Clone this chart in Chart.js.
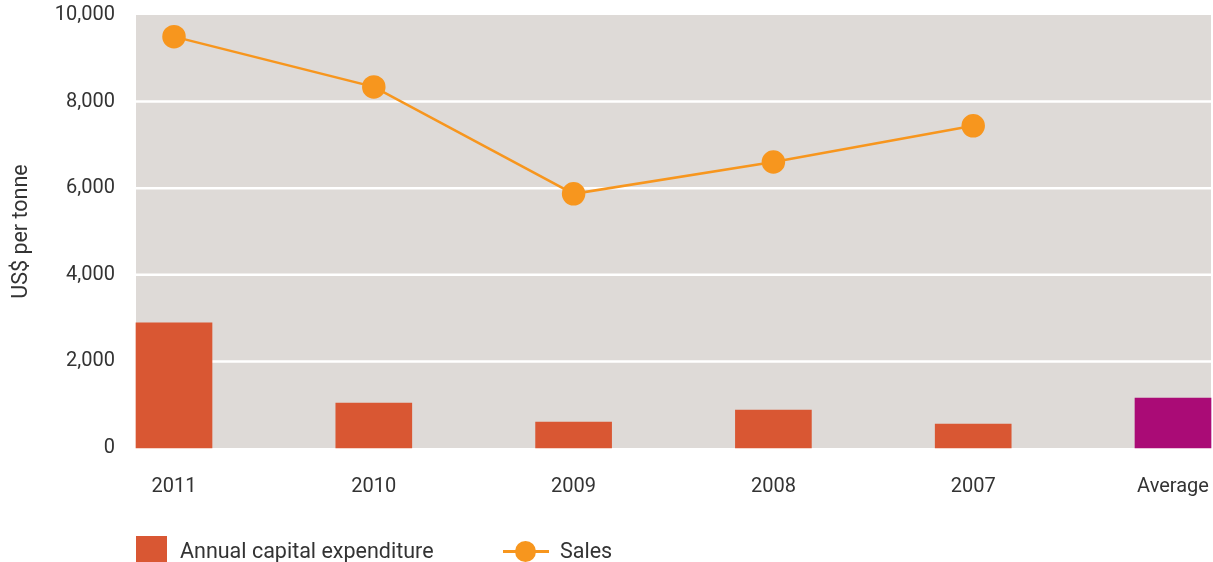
<!DOCTYPE html>
<html>
<head>
<meta charset="utf-8">
<script src="https://cdn.jsdelivr.net/npm/chart.js@4"></script>
<style>
  body { margin:0; background:#fff; font-family: Roboto, sans-serif; }
  #wrap { position:relative; width:1213px; height:562px; }
  #legend { position:absolute; left:0; top:0; width:1213px; height:562px; pointer-events:none; color:#333; font-size:21.5px; }
  .sq { position:absolute; left:136px; top:536px; width:31px; height:30px; background:#d95733; }
  .ln { position:absolute; left:503px; top:550px; width:46px; height:3px; background:#f7961e; }
  .dot { position:absolute; left:515px; top:541px; width:21px; height:21px; border-radius:50%; background:#f7961e; }
  .lab { position:absolute; top:538px; line-height:26px; }
</style>
</head>
<body>
<div id="wrap">
  <canvas id="chart" width="1213" height="562"></canvas>
  <div id="legend">
    <div class="sq"></div><div class="lab" style="left:180px">Annual capital expenditure</div>
    <div class="ln"></div><div class="dot"></div><div class="lab" style="left:560px">Sales</div>
  </div>
</div>
<script>
// data
const categories = ["2011", "2010", "2009", "2008", "2007", "Average"];
const capex = [2890, 1040, 600, 878, 554, 1155];
const sales = [9500, 8340, 5870, 6605, 7440, null];
const yTicks = [0, 2000, 4000, 6000, 8000, 10000];

const barColors = ["#d95733", "#d95733", "#d95733", "#d95733", "#d95733", "#aa0b76"];

// grey panel and white grid lines, wider than the chart area so the edge bars sit inside
const panel = {
  id: 'panel',
  beforeDatasetsDraw(chart) {
    const {ctx, chartArea: a, scales: {y}} = chart;
    const half = 38;
    ctx.save();
    ctx.fillStyle = '#dedad7';
    ctx.fillRect(a.left - half, a.top, a.right - a.left + 2 * half, a.bottom - a.top);
    ctx.strokeStyle = '#ffffff';
    ctx.lineWidth = 2.5;
    yTicks.forEach(v => {
      if (v === 0 || v === 10000) return;
      const py = y.getPixelForValue(v);
      ctx.beginPath();
      ctx.moveTo(a.left - half, py);
      ctx.lineTo(a.right + half, py);
      ctx.stroke();
    });
    ctx.restore();
  }
};

Chart.defaults.font.family = 'Roboto, sans-serif';
Chart.defaults.font.size = 20;
Chart.defaults.color = '#333';

new Chart(document.getElementById('chart'), {
  type: 'bar',
  data: {
    labels: categories,
    datasets: [
      {
        type: 'line',
        label: 'Sales',
        data: sales,
        borderColor: '#f7961e',
        backgroundColor: '#f7961e',
        borderWidth: 2.5,
        pointRadius: 10.5,
        pointHoverRadius: 10.5,
        clip: false,
        order: 0
      },
      {
        label: 'Annual capital expenditure',
        data: capex,
        backgroundColor: barColors,
        barThickness: 76,
        clip: false,
        order: 1
      }
    ]
  },
  options: {
    responsive: false,
    animation: false,
    layout: { padding: { top: 15, right: 40, left: 0, bottom: 0 } },
    plugins: { legend: { display: false }, tooltip: { enabled: false } },
    scales: {
      x: {
        offset: false,
        grid: { display: false, drawTicks: false },
        border: { display: false },
        ticks: { padding: 27, maxRotation: 0, autoSkip: false },
        afterFit(s) { s.height = 114; s.paddingLeft = 0; s.paddingRight = 0; }
      },
      y: {
        min: 0,
        max: 10000,
        afterBuildTicks(s) { s.ticks = yTicks.map(v => ({ value: v })); },
        grid: { display: false, drawTicks: false },
        border: { display: false },
        ticks: {
          padding: 59,
          callback: v => v.toLocaleString('en-US')
        },
        title: {
          display: true,
          text: 'US$ per tonne',
          padding: { top: 9, bottom: 0 },
          font: { size: 21.5 }
        },
        afterFit(s) { s.width = 174; s.paddingTop = 0; s.paddingBottom = 0; }
      }
    }
  },
  plugins: [panel]
});
</script>
</body>
</html>
